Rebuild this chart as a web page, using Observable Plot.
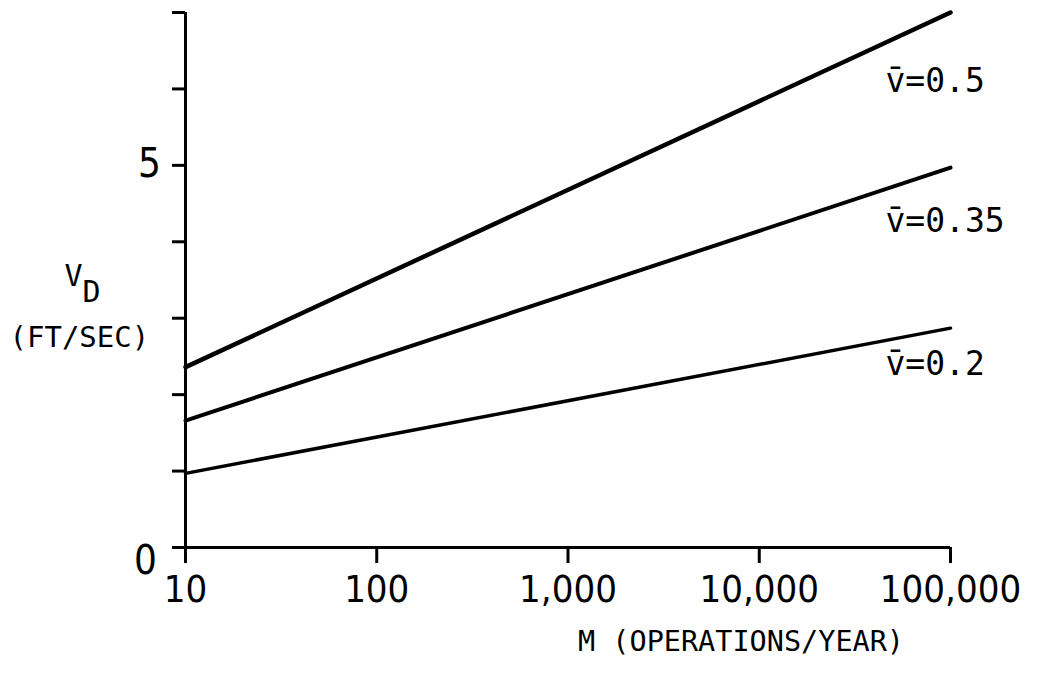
<!DOCTYPE html>
<html>
<head>
<meta charset="utf-8">
<script src="https://cdn.jsdelivr.net/npm/d3@7"></script>
<script src="https://cdn.jsdelivr.net/npm/@observablehq/plot@0.6"></script>
<style>
  html, body { margin: 0; padding: 0; background: #fff; }
  #chart { width: 1045px; height: 677px; }
</style>
</head>
<body>
<div id="chart"></div>
<script>
// Design velocity V_D against annual operations M, for three mean sink rates
const mValues = [10, 100000];
const vdHigh = [2.36, 7.0];    // v̄ = 0.5
const vdMid = [1.66, 4.97];    // v̄ = 0.35
const vdLow = [0.97, 2.87];    // v̄ = 0.2
const seriesNames = ["v\u0304=0.5", "v\u0304=0.35", "v\u0304=0.2"];

const xTicks = [10, 100, 1000, 10000, 100000];
const yTicks = [0, 1, 2, 3, 4, 5, 6, 7];
const yTickLabels = [0, 5];
const xTitle = "M (OPERATIONS/YEAR)";

const seriesValues = [vdHigh, vdMid, vdLow];
const rows = seriesValues.flatMap((vals, i) =>
  vals.map((v, j) => ({series: seriesNames[i], m: mValues[j], vd: v}))
);
const ends = rows.filter(d => d.m === mValues[mValues.length - 1]);

const ink = "#000";
const mono = "'DejaVu Sans Mono', 'Liberation Mono', monospace";
const narrow = "'Liberation Sans Narrow', 'DejaVu Sans Condensed', 'Liberation Sans', sans-serif";

// stroke weight and label drop per curve
const lineWeight = {[seriesNames[0]]: 4.5, [seriesNames[1]]: 4, [seriesNames[2]]: 3.5};
const labelDrop = {[seriesNames[0]]: 69, [seriesNames[1]]: 54, [seriesNames[2]]: 36};

const chart = Plot.plot({
  width: 1045,
  height: 677,
  marginLeft: 185,
  marginRight: 95,
  marginTop: 12,
  marginBottom: 130,
  style: {background: "#fff", color: ink},
  x: {type: "log", domain: [mValues[0], mValues[mValues.length - 1]]},
  y: {domain: [yTicks[0], yTicks[yTicks.length - 1]]},
  marks: [
    Plot.axisX({
      ticks: xTicks, tickSize: 16, tickPadding: 12, strokeWidth: 3,
      tickFormat: d3.format(","), fontSize: 38, fontFamily: narrow, label: null
    }),
    Plot.axisY({
      ticks: yTicks, tickSize: 13, strokeWidth: 3,
      tickFormat: () => "", label: null
    }),
    Plot.ruleY([yTicks[0]], {stroke: ink, strokeWidth: 3}),
    Plot.ruleX([mValues[0]], {stroke: ink, strokeWidth: 3}),
    // y tick labels (the zero sits below the corner)
    ...yTickLabels.map(t => Plot.text([t], {
      x: () => mValues[0], y: d => d, text: d => String(d),
      dx: t === 0 ? -40 : -36, dy: t === 0 ? 14 : -1,
      fontSize: 40, fontFamily: narrow, fill: ink
    })),
    // curves
    ...seriesNames.map(name => Plot.line(rows.filter(d => d.series === name), {
      x: "m", y: "vd", stroke: ink, strokeWidth: lineWeight[name], strokeLinecap: "round"
    })),
    // curve labels
    ...seriesNames.map(name => Plot.text(ends.filter(d => d.series === name), {
      x: "m", y: "vd", text: "series", textAnchor: "start",
      dx: -65, dy: labelDrop[name], fontSize: 33, fontFamily: mono, fill: ink
    })),
    // y-axis title
    Plot.text(["V"], {frameAnchor: "left", text: d => d, textAnchor: "start",
      dx: -121, dy: -4, fontSize: 30, fontFamily: mono, fill: ink}),
    Plot.text(["D"], {frameAnchor: "left", text: d => d, textAnchor: "start",
      dx: -103, dy: 12, fontSize: 30, fontFamily: mono, fill: ink}),
    Plot.text(["(FT/SEC)"], {frameAnchor: "left", text: d => d, textAnchor: "start",
      dx: -176, dy: 58, fontSize: 29, fontFamily: mono, fill: ink}),
    // x-axis title
    Plot.text([xTitle], {frameAnchor: "bottom", text: d => d, textAnchor: "start",
      dx: 10, dy: 103, fontSize: 28.5, fontFamily: mono, fill: ink})
  ]
});

document.getElementById("chart").appendChild(chart);
</script>
</body>
</html>
